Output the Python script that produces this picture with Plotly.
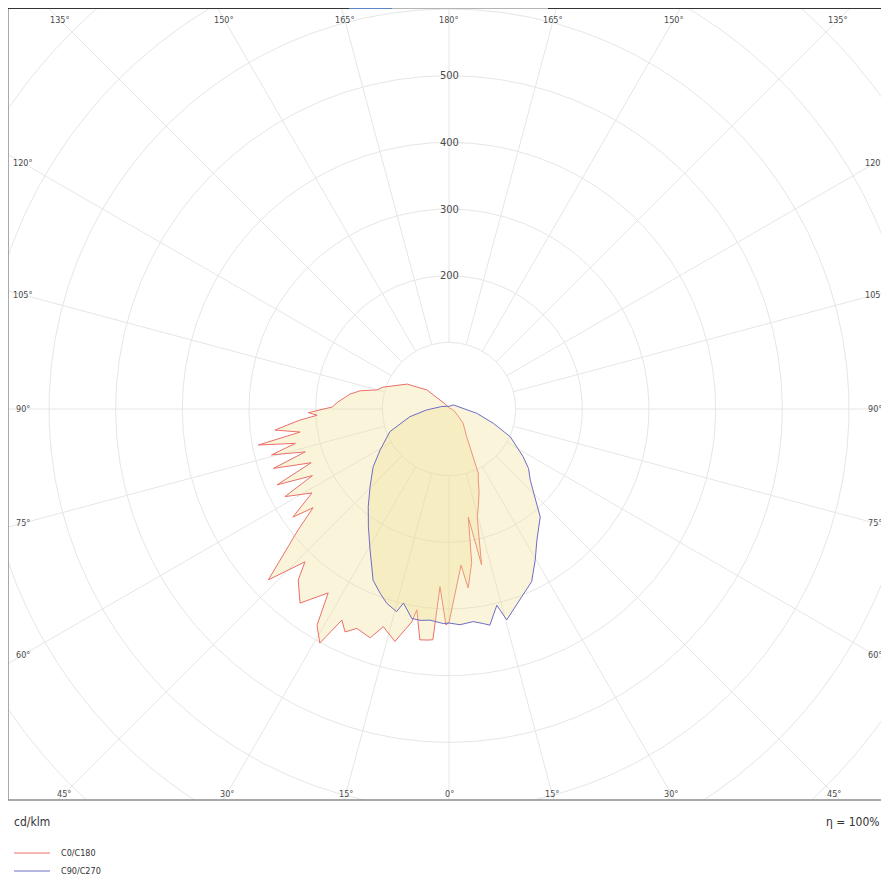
import numpy as np
import plotly.graph_objects as go

# ---------------- data (cd/klm vs gamma angle in degrees) ----------------
c180_gamma = [0, 0.8, 2.9, 4.0, 5.2, 7.2, 9.1, 9.9, 13.1, 16.8, 19.0, 22.8, 25.0, 26.9,
              28.9, 31.4, 33.3, 37.5, 41.4, 43.3, 46.6, 48.7, 51.3, 54.0, 55.3, 58.5,
              61.9, 64.0, 66.2, 68.7, 71.3, 73.4, 75.5, 77.4, 79.3, 81.2, 83.1, 85.7,
              87.3, 88.5, 89.8, 91.0, 93.6, 96.6, 98.6, 101.6, 103.0, 104.8, 108.4,
              114.8, 120.8, 124.5, 130.8, 135, 140, 180]
c180_value = [320, 324, 267, 347, 348, 349, 305, 324, 358, 341, 363, 357, 369, 355,
              401, 380, 330, 367, 342, 315, 373, 332, 290, 252, 285, 241,
              279, 228, 282, 222, 278, 225, 275, 236, 291, 226, 263, 225,
              198, 211, 189, 175, 167, 157, 150, 136, 122, 112, 104,
              86, 73, 58, 44, 19, 12, 2]

c0_gamma = [0, 1.2, 4.4, 6.1, 8.4, 10.1, 11.8, 14.6, 16.7, 20.0, 22.4, 24.5, 27.0,
            32.6, 45, 60, 75, 90, 120, 180]
c0_value = [320, 290, 235, 270, 233, 165, 239, 168, 153, 132, 115, 106, 80,
            49, 30, 12, 7, 4, 2, 2]

c270_gamma = [0, 1.5, 5.1, 7.8, 10.1, 13.2, 14.5, 17.8, 20.5, 23.9, 29.3, 34.4, 39.6,
              45.5, 52.7, 59.3, 69.0, 78.8, 87.4, 107.5, 146, 180]
c270_value = [321, 322, 318, 320, 319, 299, 314, 306, 295, 281, 242, 214, 190,
              166, 143, 120, 95, 60, 34, 12, 5, 4]

c90_gamma = [0, 2.9, 6.5, 9.1, 10.7, 13.7, 15.3, 18.5, 22.6, 25.6, 29.7, 33.8, 40.2,
             44.4, 48.8, 53.2, 57.3, 65.6, 72.1, 81.2, 98.8, 133, 180]
c90_value = [321, 324, 321, 326, 330, 303, 328, 313, 297, 287, 261, 237, 212,
             184, 162, 149, 132, 101, 70, 42, 17, 9, 4]

grid_radii = [100, 200, 300, 400, 500, 600, 700, 800, 900]
radius_labels = [200, 300, 400, 500]
top_labels = [135, 150, 165, 180]
side_labels = [60, 75, 90, 105, 120]
bottom_labels = [0, 15, 30, 45]
series_names = ["C0/C180", "C90/C270"]
series_colors = ["#ec6f6a", "#6d6dc4"]

# ---------------- geometry ----------------
W, H = 881, 880          # page adds an 8px body margin
ML, MR, MT, MB = 0, 1, 0, 88
PW, PH = W - ML - MR, H - MT - MB
U = 1.5                  # cd/klm per pixel
CX, CY = 441, 401        # pole position inside the figure (px)
xr = [-(CX - ML) * U, (PW - (CX - ML)) * U]
yr = [-(PH - (CY - MT)) * U, (CY - MT) * U]

GRID = "#e6e6e6"
TXT = "#4a4a4a"
FONT = "DejaVu Sans Condensed, Liberation Sans Narrow, DejaVu Sans, sans-serif"

fig = go.Figure()

# circles
t = np.linspace(0, 2 * np.pi, 721)
for r in grid_radii:
    fig.add_trace(go.Scatter(x=r * np.sin(t), y=r * np.cos(t), mode="lines",
                             line=dict(color=GRID, width=1), hoverinfo="skip",
                             showlegend=False))
# radial lines
for a in range(0, 360, 15):
    ar = np.radians(a)
    fig.add_trace(go.Scatter(x=[100 * np.sin(ar), 1000 * np.sin(ar)],
                             y=[-100 * np.cos(ar), -1000 * np.cos(ar)], mode="lines",
                             line=dict(color=GRID, width=1), hoverinfo="skip",
                             showlegend=False))


def polygon(lg, lv, rg, rv):
    lg = np.radians(lg); rg = np.radians(rg)
    lv = np.asarray(lv, float); rv = np.asarray(rv, float)
    xs = np.concatenate([-lv * np.sin(lg), (rv * np.sin(rg))[::-1]])
    ys = np.concatenate([-lv * np.cos(lg), (-rv * np.cos(rg))[::-1]])
    return xs, ys


FILL = "rgba(240,222,150,0.34)"
xs, ys = polygon(c180_gamma, c180_value, c0_gamma, c0_value)
fig.add_trace(go.Scatter(x=xs, y=ys, mode="lines", fill="toself", fillcolor=FILL,
                         line=dict(color=series_colors[0], width=1),
                         name=series_names[0], showlegend=False))
xs, ys = polygon(c270_gamma, c270_value, c90_gamma, c90_value)
fig.add_trace(go.Scatter(x=xs, y=ys, mode="lines", fill="toself", fillcolor=FILL,
                         line=dict(color=series_colors[1], width=1),
                         name=series_names[1], showlegend=False))

ann = []
for r in radius_labels:
    ann.append(dict(x=0, y=r, text=str(r), showarrow=False, xanchor="center",
                    yanchor="middle", font=dict(size=11, color=TXT, family=FONT)))

y_top = yr[1] - 12 * U
for a in top_labels:
    dx = y_top * np.tan(np.radians(180 - a))
    for s in ([-1, 1] if a != 180 else [1]):
        ann.append(dict(x=s * dx, y=y_top, text=f"{a}°", showarrow=False,
                        font=dict(size=9, color=TXT, family=FONT)))
x_side = (CX - 15) * U
for a in side_labels:
    yy = -x_side * np.cos(np.radians(a)) / np.sin(np.radians(a))
    for s in [-1, 1]:
        ann.append(dict(x=s * x_side, y=yy, text=f"{a}°", showarrow=False,
                        xanchor="center",
                        font=dict(size=9, color=TXT, family=FONT)))
y_bot = yr[0] + 6 * U
for a in bottom_labels:
    dx = -y_bot * np.tan(np.radians(a))
    for s in ([-1, 1] if a != 0 else [1]):
        ann.append(dict(x=s * dx, y=y_bot, text=f"{a}°", showarrow=False,
                        font=dict(size=9, color=TXT, family=FONT)))

ann.append(dict(xref="paper", yref="paper", x=4 / PW, y=-22 / PH, text="cd/klm",
                showarrow=False, xanchor="left", yanchor="middle",
                font=dict(size=12, color="#333", family=FONT)))
ann.append(dict(xref="paper", yref="paper", x=874 / PW, y=-22 / PH, text="η = 100%",
                showarrow=False, xanchor="right", yanchor="middle",
                font=dict(size=12, color="#333", family=FONT)))

shapes = [
    dict(type="line", xref="paper", yref="paper", x0=0, x1=0, y0=0, y1=1,
         line=dict(color="#8c8c8c", width=1.5)),
    dict(type="line", xref="paper", yref="paper", x0=0, x1=1, y0=0, y1=0,
         line=dict(color="#8c8c8c", width=1.5)),
    dict(type="line", xref="paper", yref="paper", x0=0, x1=1, y0=1, y1=1,
         line=dict(color="#333333", width=2)),
    dict(type="line", xref="paper", yref="paper", x0=384 / PW, x1=540 / PW, y0=1, y1=1,
         line=dict(color="#b4b4b4", width=2)),
    dict(type="line", xref="paper", yref="paper", x0=341 / PW, x1=384 / PW, y0=1, y1=1,
         line=dict(color="#5b86c9", width=2)),
]

# manual legend
for i, (nm, col) in enumerate(zip(series_names, series_colors)):
    yy = -(53 + 18 * i) / PH
    shapes.append(dict(type="line", xref="paper", yref="paper", x0=6 / PW, x1=42 / PW,
                       y0=yy, y1=yy, line=dict(color=col, width=1)))
    ann.append(dict(xref="paper", yref="paper", x=51 / PW, y=yy, text=nm,
                    showarrow=False, xanchor="left", yanchor="middle",
                    font=dict(size=9, color="#333", family=FONT)))

fig.update_layout(
    width=W, height=H,
    margin=dict(l=ML, r=MR, t=MT, b=MB),
    paper_bgcolor="white", plot_bgcolor="white",
    xaxis=dict(range=xr, visible=False, showgrid=False, zeroline=False, fixedrange=True),
    yaxis=dict(range=yr, visible=False, showgrid=False, zeroline=False, fixedrange=True),
    annotations=ann, shapes=shapes,
    showlegend=False,
)

fig.write_html("out.html")
